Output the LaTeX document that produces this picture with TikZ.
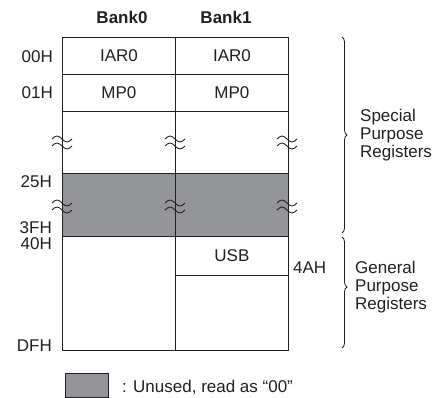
\documentclass[tikz,border=0pt]{standalone}
\usepackage{fontspec}
\setmainfont{Liberation Sans}
\usepackage{xcolor}
\usetikzlibrary{decorations.pathreplacing}
\definecolor{line-dark}{HTML}{231F20}
\definecolor{unused-gray}{HTML}{939598}
\tikzset{
    reg-cell/.style = {draw=line-dark, line width=0.9pt, rectangle, minimum width=113pt, inner sep=0pt, anchor=north west},
    unused-cell/.style = {reg-cell, fill=unused-gray},
    addr-label/.style = {anchor=east, inner sep=0pt},
    bank-title/.style = {font=\fontsize{17}{18}\selectfont\bfseries},
    group-brace/.style = {draw=line-dark, line width=0.8pt, decorate, decoration={brace, amplitude=5pt}},
    group-label/.style = {anchor=west, align=left, inner sep=0pt},
}

\begin{document}
\begin{tikzpicture}[x=1pt, y=-1pt, font=\fontsize{17}{18}\selectfont, text=line-dark]
\useasboundingbox (0,0) rectangle (439,398);
% bank titles
\node [bank-title] (bank0) at (122,17.5) {Bank0};
\node [bank-title] (bank1) at (226,17.5) {Bank1};
% register cells, bank 0
\node [reg-cell, minimum height=37pt] (iar-a) at (62,37) {IAR0};
\node [reg-cell, minimum height=37pt] (mp-a) at (62,74) {MP0};
\node [reg-cell, minimum height=62pt] (spr-a) at (62,111) {};
\node [unused-cell, minimum height=63pt] (gap-a) at (62,173) {};
\node [reg-cell, minimum height=114pt] (gpr-a) at (62,236) {};
% register cells, bank 1
\node [reg-cell, minimum height=37pt] (iar-b) at (175,37) {IAR0};
\node [reg-cell, minimum height=37pt] (mp-b) at (175,74) {MP0};
\node [reg-cell, minimum height=62pt] (spr-b) at (175,111) {};
\node [unused-cell, minimum height=63pt] (gap-b) at (175,173) {};
\node [reg-cell, minimum height=39pt] (usb-b) at (175,236) {USB};
\node [reg-cell, minimum height=75pt] (gpr-b) at (175,275) {};
% breaks in the address range
\foreach \bx in {62,175,287}
    \foreach \by in {139,203} {
        \draw [line-dark, line width=0.9pt] (\bx-10,\by) sin (\bx-5,\by-3) cos (\bx,\by) sin (\bx+5,\by+3) cos (\bx+10,\by);
        \draw [line-dark, line width=0.9pt] (\bx-10,\by+7) sin (\bx-5,\by+4) cos (\bx,\by+7) sin (\bx+5,\by+10) cos (\bx+10,\by+7);
    }
% addresses
\node [addr-label] (a00) at (53,56.5) {00H};
\node [addr-label] (a01) at (53,93) {01H};
\node [addr-label] (a25) at (52,182) {25H};
\node [addr-label] (a3f) at (52,228) {3FH};
\node [addr-label] (a40) at (52,243.5) {40H};
\node [addr-label] (adf) at (52,346) {DFH};
\node [anchor=west, inner sep=0pt] (a4a) at (293,267.5) {4AH};
% groups
\coordinate (spr-top) at (342,37);
\coordinate (spr-bot) at (342,233);
\coordinate (gpr-top) at (342,237);
\coordinate (gpr-bot) at (342,348);
\draw [group-brace] (spr-top) -- (spr-bot);
\draw [group-brace, decoration={aspect=0.45}] (gpr-top) -- (gpr-bot);
\node [group-label] (spr-text) at (360,135) {Special\\Purpose\\Registers};
\node [group-label] (gpr-text) at (355,287) {General\\Purpose\\Registers};
% legend
\node [draw=line-dark, line width=0.9pt, fill=unused-gray, minimum width=43pt, minimum height=24pt, inner sep=0pt, anchor=north west] (legend-box) at (65,373) {};
\node [anchor=west, inner sep=0pt] (legend-text) at (122,387) {: Unused, read as “00”};
\end{tikzpicture}
\end{document}
